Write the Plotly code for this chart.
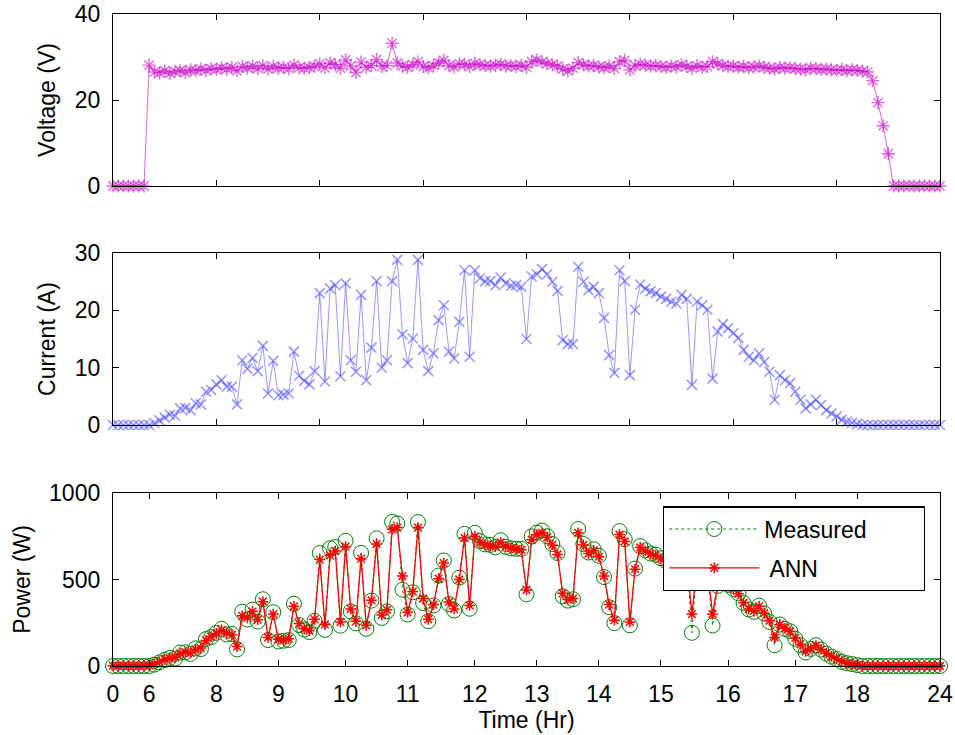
import plotly.graph_objects as go

# Sample index (5-minute records through the day)
sample = list(range(161))

voltage = [
    0, 0, 0, 0, 0, 0, 0,
    28.1, 26.5, 26.3, 26.8, 26.2, 26.6, 26.9, 26.4, 27.0, 26.8,
    27.2, 26.9, 27.3, 27.1, 27.5, 27.2, 27.6, 26.8, 27.8, 27.4,
    27.9, 27.3, 28.0, 27.2, 27.8, 27.4, 27.6, 27.3, 28.1, 27.5,
    27.4, 27.6, 27.8, 28.4, 27.5, 28.6, 28.2, 27.4, 29.3, 27.9,
    26.4, 28.8, 27.6, 28.0, 29.4, 27.8, 28.0, 33.2, 28.6, 27.9,
    27.6, 28.2, 28.9, 27.8, 27.5, 28.0, 28.6, 29.2, 28.0, 27.7,
    28.4, 28.3, 27.8, 28.5, 28.2, 28.0, 27.9, 28.1, 28.3, 27.9,
    28.0, 27.8, 28.1, 27.6, 28.9, 29.3, 28.8, 28.5, 28.2, 27.9,
    27.2, 26.8, 27.4, 28.7, 28.2, 27.9, 28.0, 27.7, 27.5, 27.9,
    27.3, 28.9, 29.2, 27.0, 28.0, 28.3, 28.1, 27.9, 28.0, 27.8,
    27.6, 27.9, 27.7, 28.2, 27.8, 27.4, 28.0, 27.6, 27.8, 28.9,
    28.4, 28.0, 27.8, 27.9, 27.6, 27.8, 27.5, 27.7, 27.9, 27.6,
    27.4, 27.2, 27.6, 27.4, 27.5, 27.3, 27.2, 27.0, 27.4, 27.3,
    27.1, 27.2, 27.0, 26.9, 27.1, 26.8, 27.0, 26.9, 26.7, 26.5,
    24.5, 19.4, 14.0, 7.5,
    0, 0, 0, 0, 0, 0, 0, 0, 0, 0,
]

current = [
    0, 0, 0, 0, 0, 0, 0, 0,
    0.3, 0.8, 1.3, 1.8, 1.6, 2.9, 3.0, 2.6, 3.8, 3.6,
    5.8, 6.1, 7.1, 7.8, 6.7, 6.7, 3.6, 11.3, 9.8, 11.7,
    9.4, 13.8, 5.5, 11.2, 5.2, 5.3, 5.5, 12.8, 8.6, 7.7,
    7.1, 9.4, 23.0, 7.6, 23.8, 24.4, 8.5, 24.7, 11.3, 9.3,
    22.7, 7.8, 13.5, 25.1, 10.0, 11.3, 25.1, 28.8, 15.8, 10.8,
    15.1, 28.8, 13.1, 9.4, 12.5, 18.3, 20.9, 12.8, 11.6, 18.0,
    27.0, 11.9, 27.0, 25.6, 25.1, 25.1, 24.4, 25.7, 24.7, 24.3,
    24.4, 24.1, 15.0, 25.9, 26.3, 27.2, 26.3, 25.0, 23.4, 14.8,
    14.1, 14.1, 27.6, 25.0, 23.5, 24.1, 23.0, 18.7, 12.2, 9.1,
    27.0, 25.1, 8.7, 20.1, 24.5, 23.8, 23.3, 23.0, 22.4, 22.0,
    21.5, 21.2, 22.7, 22.0, 7.0, 21.5, 20.9, 20.1, 8.1, 16.3,
    17.6, 16.9, 16.0, 15.2, 13.1, 11.9, 11.3, 12.5, 11.0, 9.3,
    4.4, 8.7, 7.8, 7.3, 5.8, 4.4, 2.9, 3.6, 4.4, 3.5,
    2.6, 2.0, 1.5, 0.9, 0.6, 0.4, 0.2,
    0, 0, 0, 0, 0, 0, 0, 0, 0, 0, 0, 0, 0, 0, 0, 0,
]

power_measured = [
    0, 0, 0, 0, 0, 0, 0, 0,
    8, 21, 35, 47, 43, 78, 79, 70, 102, 98,
    156, 167, 192, 215, 182, 185, 96, 314, 269, 326,
    257, 386, 150, 311, 142, 146, 150, 360, 237, 211,
    196, 261, 653, 209, 681, 688, 233, 724, 315, 246,
    654, 215, 378, 738, 278, 316, 833, 824, 441, 298,
    426, 832, 364, 259, 350, 523, 610, 358, 321, 511,
    764, 331, 770, 722, 703, 700, 686, 727, 689, 680,
    678, 677, 414, 749, 771, 783, 750, 705, 653, 403,
    378, 386, 792, 705, 656, 675, 637, 514, 340, 248,
    780, 733, 235, 563, 693, 669, 650, 644, 623, 607,
    600, 587, 640, 612, 192, 602, 577, 559, 234, 463,
    493, 470, 446, 420, 364, 327, 313, 349, 304, 255,
    120, 240, 214, 201, 158, 120, 78, 99, 120, 95,
    71, 54, 40, 24, 16, 11, 5,
    0, 0, 0, 0, 0, 0, 0, 0, 0, 0, 0, 0, 0, 0, 0, 0,
]

power_ann = [
    2, 1, 2, 1, 2, 1, 3, 4,
    12, 24, 38, 45, 50, 72, 80, 76, 96, 104,
    148, 170, 188, 208, 190, 180, 112, 290, 278, 315,
    268, 372, 165, 300, 155, 150, 158, 345, 245, 215,
    205, 270, 615, 240, 640, 665, 255, 690, 330, 258,
    620, 235, 380, 705, 295, 325, 790, 800, 520, 310,
    430, 800, 390, 270, 355, 505, 595, 370, 330, 500,
    740, 350, 750, 715, 700, 695, 690, 715, 690, 682,
    676, 672, 440, 730, 760, 770, 745, 700, 645, 420,
    385, 390, 770, 700, 650, 668, 632, 520, 355, 265,
    760, 720, 255, 560, 685, 665, 648, 640, 620, 605,
    598, 588, 632, 605, 300, 590, 575, 555, 300, 470,
    488, 468, 445, 418, 365, 330, 318, 345, 305, 262,
    165, 240, 218, 200, 162, 125, 85, 100, 118, 96,
    74, 56, 42, 26, 16, 10, 6,
    0, 0, 0, 0, 0, 0, 0, 0, 0, 0, 0, 0, 0, 0, 0, 0,
]

index_ticks = [0, 20, 40, 60, 80, 100, 120, 140, 160]
hour_tick_pos = [0, 7, 20, 32, 45, 57, 70, 82, 94, 106, 119, 132, 144, 160]
hour_tick_text = ["0", "6", "8", "9", "10", "11", "12", "13", "14", "15", "16", "17", "18", "24"]

FONT = "Liberation Sans, Arial, sans-serif"
FS = 23
MAGENTA = "#c400c4"
BLUE = "#0000ff"
GREEN = "#008000"
RED = "#ff0000"
NBSP = "\u00a0"

fig = go.Figure()

fig.add_trace(go.Scatter(
    x=sample, y=voltage, mode="lines+markers", xaxis="x", yaxis="y",
    line=dict(color="rgba(200,0,200,0.6)", width=1),
    marker=dict(symbol="asterisk-open", size=11, line=dict(color=MAGENTA, width=1.4)),
    cliponaxis=False, showlegend=False,
))

fig.add_trace(go.Scatter(
    x=sample, y=current, mode="lines+markers", xaxis="x2", yaxis="y2",
    line=dict(color="rgba(70,70,255,0.55)", width=1),
    marker=dict(symbol="x-thin-open", size=10, line=dict(color=BLUE, width=1.6)),
    cliponaxis=False, showlegend=False,
))

fig.add_trace(go.Scatter(
    x=sample, y=power_measured, mode="lines+markers", xaxis="x3", yaxis="y3",
    name="Measured" + NBSP * 8, legendgroup="measured",
    line=dict(color=GREEN, width=1, dash="dot"),
    marker=dict(symbol="circle-open", size=15, line=dict(color=GREEN, width=1)),
    cliponaxis=False,
))

fig.add_trace(go.Scatter(
    x=sample, y=power_ann, mode="lines+markers", xaxis="x3", yaxis="y3",
    name=" ANN", legendgroup="ann",
    line=dict(color=RED, width=1.3),
    marker=dict(symbol="asterisk-open", size=9, line=dict(color=RED, width=1.5)),
    cliponaxis=False,
))

axis_common = dict(
    showline=True, linecolor="black", linewidth=1.3, mirror="ticks",
    ticks="inside", ticklen=6, tickcolor="black", tickwidth=1.3,
    showgrid=False, zeroline=False, automargin=False,
    tickfont=dict(family=FONT, size=FS, color="black"),
    ticklabelstandoff=7,
)

title_font = dict(family=FONT, size=FS, color="black")

fig.update_layout(
    width=955, height=735,
    margin=dict(l=113, r=15, t=14, b=69),
    paper_bgcolor="white", plot_bgcolor="white",
    font=dict(family=FONT, size=FS, color="black"),
    xaxis=dict(domain=[0, 1], anchor="y", range=[0, 160], tickvals=index_ticks,
               showticklabels=False, **axis_common),
    yaxis=dict(domain=[0.7362, 1.0], anchor="x", range=[0, 40], tickvals=[0, 20, 40],
               title=dict(text="Voltage (V)", font=title_font, standoff=12), **axis_common),
    xaxis2=dict(domain=[0, 1], anchor="y2", range=[0, 160], tickvals=index_ticks,
                showticklabels=False, **axis_common),
    yaxis2=dict(domain=[0.3696, 0.6334], anchor="x2", range=[0, 30], tickvals=[0, 10, 20, 30],
                title=dict(text="Current (A)", font=title_font, standoff=12), **axis_common),
    xaxis3=dict(domain=[0, 1], anchor="y3", range=[0, 160], tickvals=hour_tick_pos,
                ticktext=hour_tick_text,
                title=dict(text="Time (Hr)", font=title_font, standoff=4), **axis_common),
    yaxis3=dict(domain=[0, 0.2653], anchor="x3", range=[0, 1000], tickvals=[0, 500, 1000],
                title=dict(text="Power (W)", font=title_font, standoff=12), **axis_common),
    legend=dict(
        x=0.665, y=0.245, xanchor="left", yanchor="top",
        bgcolor="white", bordercolor="black", borderwidth=1.3,
        font=dict(family=FONT, size=FS, color="black"),
        itemwidth=90, tracegroupgap=6,
    ),
)

fig.write_html("out.html")
